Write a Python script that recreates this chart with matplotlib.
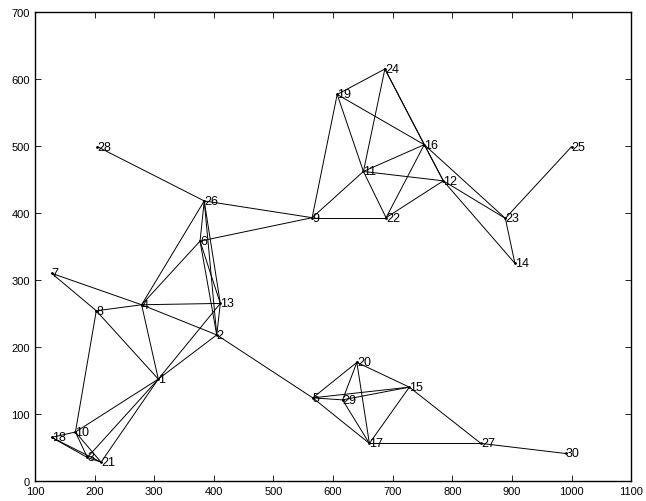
import matplotlib
matplotlib.use("Agg")
import matplotlib.pyplot as plt

plt.rcParams['font.family'] = ['Liberation Sans', 'DejaVu Sans']

# node coordinates (node i -> index i-1)
xs = [307, 405, 188, 279, 566, 377, 128, 203, 565, 168,
      651, 785, 411, 905, 728, 753, 661, 128, 607, 640,
      211, 689, 889, 687, 1000, 384, 848, 205, 616, 990]
ys = [152, 218, 35, 263, 124, 358, 310, 254, 393, 73,
      462, 448, 265, 325, 140, 502, 56, 65, 577, 177,
      28, 393, 392, 615, 499, 418, 56, 499, 121, 41]

# edges between node numbers
edges = [(7, 8), (7, 4), (4, 2), (2, 5), (8, 4), (4, 13), (8, 1), (8, 10),
         (4, 1), (1, 13), (1, 2), (1, 10), (1, 3), (1, 21), (10, 18), (10, 3),
         (10, 21), (18, 3), (18, 21), (3, 21), (4, 26), (4, 6), (6, 26),
         (26, 13), (26, 2), (6, 13), (6, 2), (13, 2), (26, 28), (26, 9), (6, 9),
         (9, 19), (9, 11), (9, 22), (19, 24), (19, 11), (19, 16), (24, 11),
         (24, 16), (24, 12), (11, 16), (11, 12), (11, 22), (22, 16), (22, 12),
         (16, 12), (16, 23), (12, 23), (12, 14), (23, 14), (23, 25),
         (5, 20), (5, 29), (5, 15), (29, 15), (5, 17), (20, 29), (20, 17),
         (20, 15), (29, 17), (15, 17), (15, 27), (17, 27), (27, 30)]

fig = plt.figure(figsize=(6.46, 5.02), dpi=100)
ax = fig.add_axes([0.054, 0.040, 0.923, 0.934])

for a, b in edges:
    ax.plot([xs[a - 1], xs[b - 1]], [ys[a - 1], ys[b - 1]], color='k', lw=0.7)

ax.plot(xs, ys, '.', color='k', ms=2)
for i in range(len(xs)):
    ax.text(xs[i], ys[i], str(i + 1), ha='left', va='center', fontsize=9)

ax.set_xlim(100, 1100)
ax.set_ylim(0, 700)
ax.set_xticks(range(100, 1101, 100))
ax.set_yticks(range(0, 701, 100))
ax.tick_params(direction='in', top=True, right=True, labelsize=8, length=4, width=0.6)
for s in ax.spines.values():
    s.set_linewidth(1.0)

fig.savefig('out.png', dpi=100)
